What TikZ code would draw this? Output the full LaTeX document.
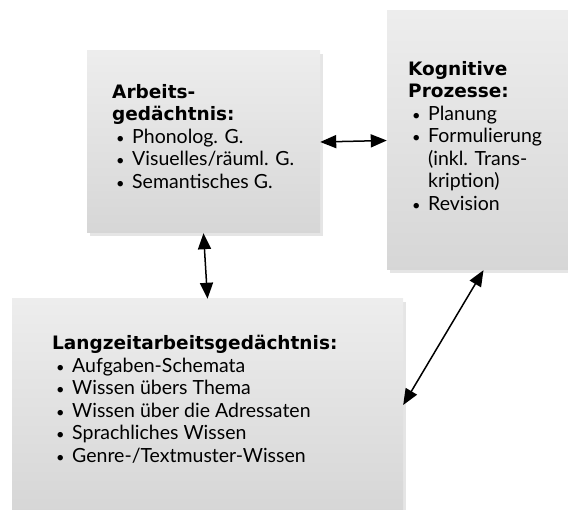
\documentclass[tikz,border=0pt]{standalone}
\usepackage{fontspec}
\setmainfont{Lato}
\newfontfamily\headfont{DejaVu Sans}
\usetikzlibrary{arrows.meta,shadows}
\newcommand{\itm}[1]{\hspace*{4pt}\makebox[16pt][l]{\scalebox{.75}{\textbullet}}#1}
\newcommand{\hd}[1]{{\headfont\bfseries\fontsize{18.5}{22}\selectfont #1}}

\begin{document}
\begin{tikzpicture}
  [x=1pt,y=-1pt,
   box/.style={rectangle,draw=none,top color=gray!14,bottom color=gray!32,
     drop shadow={shadow xshift=3pt,shadow yshift=-3pt,fill=gray!40,opacity=.5}},
   txt/.style={anchor=north west,align=left,inner sep=0pt,font=\fontsize{19.5}{22.5}\selectfont},
   link/.style={{Triangle[length=16pt,width=13pt]}-{Triangle[length=16pt,width=13pt]},line width=1.5pt}]
  \useasboundingbox (0,0) rectangle (568,510);

  \node (A) at (203.5,142) [box,minimum width=233pt,minimum height=182pt] {};
  \node (K) at (483.5,140.5) [box,minimum width=193pt,minimum height=259pt] {};
  \node (L) at (207.5,405) [box,minimum width=391pt,minimum height=212pt] {};

  \node (tA) at (112,84) [txt] {\hd{Arbeits-}\\ \hd{gedächtnis:}\\
    \itm{Phonolog. G.}\\ \itm{Visuelles/räuml. G.}\\ \itm{Semantisches G.}};
  \node (tK) at (408,61) [txt] {\hd{Kognitive}\\ \hd{Prozesse:}\\
    \itm{Planung}\\ \itm{Formulierung}\\ \hspace*{20pt}(inkl. Trans-\\
    \hspace*{20pt}kription)\\ \itm{Revision}};
  \node (tL) at (52,335) [txt] {\hd{Langzeitarbeitsgedächtnis:}\\
    \itm{Aufgaben-Schemata}\\ \itm{Wissen übers Thema}\\ \itm{Wissen über die Adressaten}\\
    \itm{Sprachliches Wissen}\\ \itm{Genre-/Textmuster-Wissen}};

  \foreach \from/\to in {A.east/K.west, A.south/L.north, K.south/L.east}
    \draw[link] (\from) -- (\to);
\end{tikzpicture}
\end{document}
